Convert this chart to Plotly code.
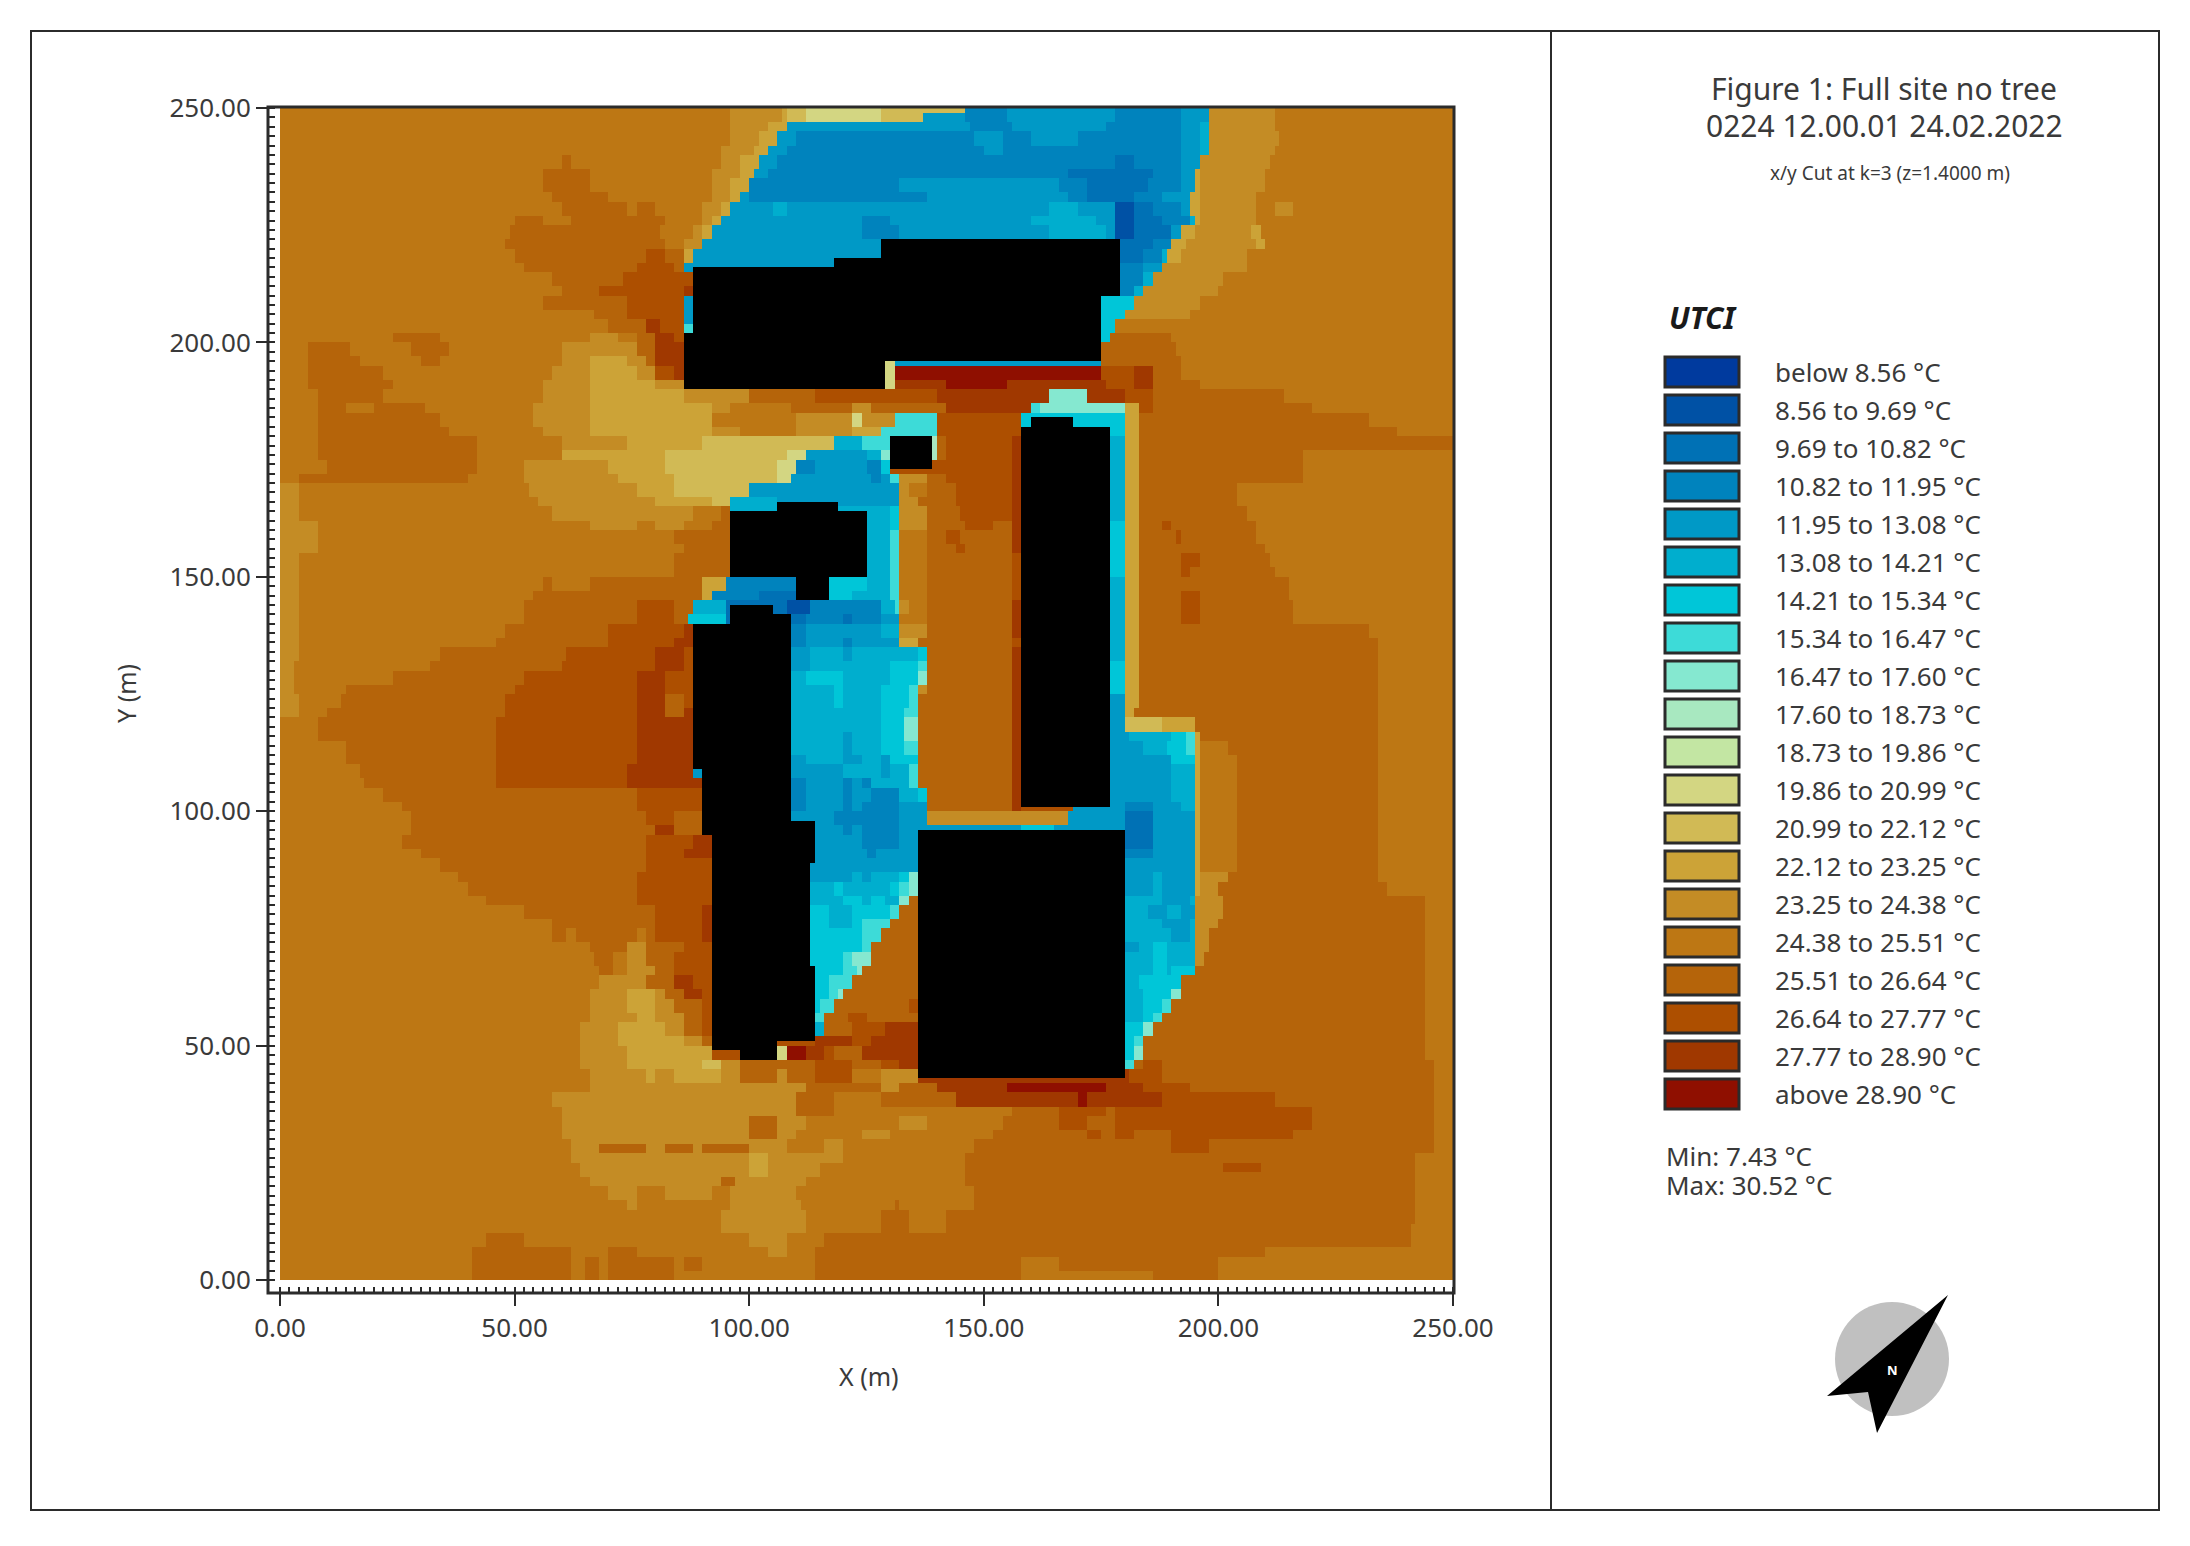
import numpy as np
import plotly.graph_objects as go

W, H = 2190, 1546
LEVELS = ["below 8.56 °C", "8.56 to 9.69 °C", "9.69 to 10.82 °C", "10.82 to 11.95 °C", "11.95 to 13.08 °C",
          "13.08 to 14.21 °C", "14.21 to 15.34 °C", "15.34 to 16.47 °C", "16.47 to 17.60 °C", "17.60 to 18.73 °C",
          "18.73 to 19.86 °C", "19.86 to 20.99 °C", "20.99 to 22.12 °C", "22.12 to 23.25 °C", "23.25 to 24.38 °C",
          "24.38 to 25.51 °C", "25.51 to 26.64 °C", "26.64 to 27.77 °C", "27.77 to 28.90 °C", "above 28.90 °C"]
COLORS = ["#003A9E", "#0051A5", "#0071B5", "#0083BD", "#0099C6", "#00AECE", "#00C6D8", "#3DDBD8", "#85E8D0", "#A8E8C0",
          "#C3E6A3", "#D3D682", "#D1BA55", "#CCA337", "#C48C25", "#BD7714", "#B5640A", "#AD4F00", "#A03800", "#8F0F00"]
CLASS_KEYS = "abcdefghijklmnopqrst"

# each row covers 2.5 m of y, top to bottom; token = class letter + x where the run ends
ROWS = [
    "p96 o107 n108 m112 l128 m137 e146 d155 e178 d192 e198 o212 p250",
    "p96 o104 n108 e147 d156 e176 d192 e196 f198 o212 p250",
    "p96 o102 n106 e110 d148 e154 d160 e170 d192 e196 f198 o213 p250",
    "p94 o101 n104 e108 d150 e154 d192 e196 f198 o212 p250",
    "p60 q62 p94 o98 n102 e106 d178 c182 d192 e196 o211 p250",
    "p56 q66 p92 o98 n101 e104 d168 c186 d192 e195 n196 o210 p250",
    "p56 q66 p92 o96 n100 d132 e166 d172 c185 d192 e195 n196 o210 p250",
    "p58 q70 p92 o96 n98 e100 d138 e168 d172 c182 d188 e194 n196 o208 p250",
    "p60 q74 p76 q80 p90 o94 n96 e105 f108 e164 f170 e178 b182 c186 d192 e194 n196 o208 p212 o216 p250",
    "p50 q56 p62 q82 p90 o92 n94 e124 d130 e160 f174 e178 b182 c188 d194 f195 n196 o208 p250",
    # 225
    "p49 q81 p88 o90 n92 e124 d132 e164 f176 e178 b182 c190 e192 n195 o207 n209 p250",
    "p48 q82 p86 o90 e128 c186 d190 n193 o208 n210 p250",
    "p50 q78 r82 q86 n88 e178 c184 d188 f189 n192 o206 p250",
    "p52 q76 r84 q86 e178 d184 e188 o206 p250",
    "p58 q73 r88 e178 d184 f186 o201 p250",
    "p60 q68 r86 s88 e178 d182 f184 o200 p250",
    "p56 q74 r86 e175 g182 o196 p250",
    "p67 q74 r86 e175 g180 o194 p250",
    "p70 q78 s81 r86 e175 g178 p250",
    "p24 q34 p66 o72 p76 q80 s84 r86 e175 g177 q190 p250",
    # 200
    "p6 q15 p28 q36 p60 o76 q80 s86 e175 q191 p250",
    "p6 q17 p30 q34 p60 o66 n74 o78 q80 s86 e175 q192 p250",
    "p6 q22 p58 o66 n76 o80 r84 s86 t175 r182 s186 q192 p250",
    "p6 q24 p56 o66 n80 o86 s142 t155 s176 r182 s186 q196 p250",
    "p8 q22 p56 o66 n86 o100 q114 r140 s164 i172 s180 r186 q214 p250",
    "p8 q14 p20 q31 p54 o66 n92 o96 p109 q122 o126 q142 s160 h162 i180 n183 r186 q220 p250",
    "p8 q34 p54 o66 n92 p110 o122 l124 o131 h140 r158 g180 n183 q232 p250",
    "p8 q36 p56 o66 n92 o98 p110 o122 n128 h140 r158 g180 n183 q238 p250",
    "p8 q42 p60 o74 n90 m118 f124 h130 j140 q142 r156 s158 f180 n183 q250",
    "p8 q42 p60 n82 m108 l112 e125 f128 i130 j140 q142 r156 s158 f180 n183 q218 p250",
    # 175
    "p10 q42 p52 o70 n82 m106 l110 d114 e125 d128 g130 r156 s158 f180 n183 q218 p250",
    "p4 q40 p52 o72 n84 m106 l109 e126 d128 e130 h132 o138 q142 r156 s158 f180 n183 q218 p250",
    "o4 p53 o76 n84 m100 e132 o134 p138 q144 r156 s158 f180 n183 q204 p250",
    "o4 p55 o80 n92 m96 f106 e132 o136 q144 r156 s158 f180 n183 q204 p250",
    "o4 p58 o88 p94 q96 f130 g132 o138 q145 r156 s158 f180 n183 q206 p250",
    "o8 p66 o76 p80 o86 p92 q96 f130 g132 o138 q146 r152 q156 s158 g180 n183 q188 r190 q208 p250",
    "o8 p84 q96 f130 h132 p138 q142 r145 q156 s158 g180 n183 q191 r192 q208 p250",
    "o8 p86 q96 f130 h132 p138 q144 r146 q156 s158 g180 n183 q210 p250",
    "o4 p84 q96 f130 h132 p138 q156 r158 g180 n183 q192 r196 q211 p250",
    "o4 p84 q96 f130 h132 p138 q156 r158 g180 n183 q192 r194 q212 p250",
    # 150
    "o4 p56 q58 p66 q90 n95 d110 g125 f130 h132 p138 q156 r158 f180 n183 q215 p250",
    "o4 p54 q90 n92 d102 c110 g122 f130 h132 p138 q156 r158 f180 n183 q192 r196 q215 p250",
    "o4 p52 q76 r84 q88 f95 c108 b113 d128 f131 h132 o134 p138 q156 s158 f180 n183 q192 r196 q216 p250",
    "o4 p52 q76 r84 q87 g95 c112 d120 c122 d128 e132 p138 q156 s158 f180 n183 q192 r196 q216 p250",
    "o4 p48 q70 r86 s88 d112 e128 f132 o138 q156 s158 f180 n183 q232 p250",
    "o4 p46 q70 r84 s88 d112 e120 d122 e132 n136 q156 r158 f180 n183 q234 p250",
    "o4 p34 q61 r80 s86 r88 e113 f120 e122 f136 g138 q156 s158 f180 n183 q234 p250",
    "o3 p32 q60 r80 s86 r88 e113 f130 g136 h138 q156 s158 g180 n183 q234 p250",
    "o3 p24 q52 r76 s82 r88 f112 g120 f130 g136 i138 q156 s158 g180 n183 q234 p250",
    "o3 p14 q50 r76 s82 r88 f118 g120 f128 g134 h136 o138 q156 s158 g180 n183 q234 p250",
    # 125
    "o4 p13 q48 r76 s82 q86 r88 f118 g120 f128 g134 h136 q156 s158 e180 n183 q234 p250",
    "o4 p10 q48 r76 s82 q86 s88 f128 g133 h136 q156 s158 e180 n182 q234 p250",
    "p8 q46 r76 s88 f128 g133 i136 q156 s158 e180 m188 n195 q234 p250",
    "p8 q46 r76 s88 f120 e122 f128 g133 i136 q156 s158 e181 f190 g193 h195 n196 q234 p250",
    "p14 q46 r76 s88 f120 e122 f128 g133 h136 q156 s158 e184 f189 g193 h195 n196 p202 q234 p250",
    "p14 q46 r76 s88 e112 f120 e124 f128 e130 g136 q156 s158 e190 g195 n196 p204 q234 p250",
    "p17 q46 r74 s88 e120 f128 e130 f134 h136 q156 s158 e190 f195 n196 p204 q234 p250",
    "p18 q46 r74 s90 d112 e120 d122 e124 d126 f134 h136 q156 s158 e190 f195 n196 p204 q234 p250",
    "p22 q76 r90 d112 e120 d122 e126 d132 f136 g138 q156 s158 e190 f195 n196 p204 q234 p250",
    "p26 q76 r90 d112 e120 d122 e124 d132 e138 q156 s158 e180 d186 e192 f195 n196 p204 q234 p250",
    # 100
    "p28 q78 r84 q90 e118 d132 e138 o168 e180 c186 e195 n196 p204 q234 p250",
    "p28 q80 s84 q92 e120 d122 e124 d132 e158 g165 e180 c186 e195 n196 p204 q234 p250",
    "p26 q78 r88 s92 e124 d132 e136 c186 e195 n196 p204 q234 p250",
    "p30 q78 r86 s92 e125 d127 e136 d186 e195 n196 p204 q234 p250",
    "p34 q78 r92 e195 n196 p204 q234 p250",
    "p38 q76 r92 f113 e122 f124 e126 f132 g134 i136 e186 f188 e195 n196 o202 q234 p250",
    "p40 q76 r92 f118 g120 f130 g132 h134 i136 e186 f188 e195 n196 o200 q236 p250",
    "p44 q76 r92 f120 g124 f126 g129 f132 i134 q136 f188 e194 f195 o201 q244 p250",
    "p52 q80 r90 s92 g117 f122 g130 h132 q136 f185 e189 f192 e195 o201 q244 p250",
    "p58 q80 r90 s92 g117 f122 g124 h130 q136 f188 e194 f195 o200 q244 p250",
    # 75
    "p58 q61 p63 q76 p78 q80 r90 s92 g124 h128 q136 f190 e194 f195 o198 q244 p250",
    "p66 q74 o78 q86 r92 g124 h126 q136 e183 f186 g189 f195 o198 q244 p250",
    "p67 q71 p74 o78 q84 r92 g120 h122 i126 q136 f186 g189 f195 o197 q244 p250",
    "p68 q71 p74 o80 q84 r92 g120 h123 i124 q136 f186 g189 f190 g195 q244 p250",
    "p68 o78 q84 s88 r92 g117 h122 q136 f183 g192 q244 p250",
    "p66 o74 n80 o82 q86 s90 r92 g117 h119 i120 q136 f184 g190 i192 q244 p250",
    "p66 o74 n80 o84 q90 r92 g115 h118 q134 r136 f184 g188 h190 q244 p250",
    "p66 o76 n80 o86 q90 r92 h116 q121 r125 q136 f184 g186 h188 q244 p250",
    "p64 o72 n82 o86 q90 r92 f116 q122 r129 s136 g184 i186 q244 p250",
    "p64 o72 n86 o90 q92 r114 s122 r126 s136 g182 h184 q244 p250",
    # 50
    "p64 o74 n92 r98 s106 l108 t112 s116 r118 q124 s136 g182 i184 q244 p250",
    "p64 o74 n90 m94 o98 q114 r122 q128 r132 s136 h182 q184 r188 q246 p250",
    "p66 o78 n80 o84 n94 o98 q106 o108 q114 r122 p128 o136 s181 r188 q246 p250",
    "p66 o112 q128 o132 q140 s155 t176 s184 r194 q246 p250",
    "p58 o110 q118 p128 q144 s170 t172 s188 r212 q246 p250",
    "p60 o110 q118 p156 q166 r176 q178 r220 q246 p250",
    "p60 o100 q106 o112 p132 o138 p154 q166 r172 q178 r220 q246 p250",
    "p60 o100 q106 o110 p124 o130 p152 q172 r175 q178 r182 q190 r216 q246 p250",
    "p62 o108 p116 o120 p148 q190 r198 q246 p250",
    "p62 o100 n104 o120 p146 q242 p250",
    # 25
    "p64 o100 n104 o115 p146 q242 p250",
    "p66 o94 q97 o112 p146 q242 p250",
    "p70 o76 p82 o92 p96 o110 p148 q242 p250",
    "p74 o76 p96 o111 p131 q132 p148 q242 p250",
    "p94 o112 p128 q134 p142 q242 p250",
    "p94 o112 p128 q134 p142 q241 p250",
    "p44 q52 p100 o108 p116 q241 p250",
    "p41 q62 p70 q76 p104 o108 p114 q210 p250",
    "p41 q62 p65 q68 p70 q84 p86 q90 p114 q158 p166 q200 p250",
    "p41 q62 p65 q68 p70 q84 p114 q158 p186 q200 p250",
]

# finer features: x0, x1, y0, y1, class
DETAILS = [
    (86, 88, 202.3, 204.5, "h"), (129, 131, 190, 195.8, "l"), (138, 168.5, 98, 100, "o"),
    (158, 169, 100, 101.1, "r"), (128, 146, 249, 250, "m"),
    (68, 78, 27.5, 29, "q"), (82, 88.5, 27.5, 29, "q"), (90, 100, 27.5, 29, "q"),
    (200.7, 208.8, 23.5, 25.5, "r"),
]
# blocked cells (buildings): x0, x1, y0, y1
BUILDINGS = [
    (87.6, 118.2, 202, 216.4), (118.2, 127.7, 202, 218.2), (127.7, 178.9, 209.7, 222.5),
    (127.7, 175.1, 195.8, 209.7), (85.9, 129, 189.7, 202.3), (118.2, 175.1, 195.8, 202.3),
    (130.1, 138.9, 173.3, 180.5),
    (95.7, 124.7, 149.7, 164.2), (105.9, 118.6, 164.2, 165.8), (110.3, 116.6, 145.3, 149.7),
    (95.7, 104.7, 139.7, 144), (104.7, 109, 139.7, 142.4), (87.6, 109, 109.5, 139.7),
    (89.6, 109, 94.8, 109.5), (92.1, 106.4, 48.7, 94.8), (106.4, 109, 51.1, 94.8),
    (109, 114.5, 89.1, 97.9), (109, 112.7, 67.5, 89.1), (109, 114.5, 51.1, 67.5), (98, 106.4, 46.8, 48.7),
    (159.9, 168.9, 182.3, 184.1), (158.3, 177, 101.1, 182.3),
    (135.8, 180.5, 42.6, 95.9),
]
X_MAJOR = list(range(0, 251, 10))
X_LABELED = list(range(0, 251, 50))

xc = np.arange(250) + 0.5
yc = np.arange(250) + 0.5
z = np.zeros((250, 250))
row_h = 250 / len(ROWS)
print(len(ROWS))
for i, row in enumerate(ROWS):
    y_hi = 250 - row_h * i
    start = 0
    vals = np.full(250, 15.0)
    for tok in row.split():
        end = int(tok[1:])
        if end > start:
            vals[start:end] = CLASS_KEYS.index(tok[0])
            start = end
    z[(yc < y_hi) & (yc >= y_hi - row_h), :] = vals
for x0, x1, y0, y1, k in DETAILS:
    mask = np.outer((yc >= y0) & (yc < y1), (xc >= x0) & (xc < x1))
    z[mask] = CLASS_KEYS.index(k)
for x0, x1, y0, y1 in BUILDINGS:
    mask = np.outer((yc >= y0) & (yc < y1), (xc >= x0) & (xc < x1))
    z[mask] = 20

n = 21
all_colors = COLORS + ["#000000"]
cs = []
for i, c in enumerate(all_colors):
    cs += [[i / n, c], [(i + 1) / n, c]]

PX = lambda x: x / W
PY = lambda y: 1 - y / H
L, R, T, B = 280, 1453, 108, 1280
FL, FB = 268, 1293
INK = "#2b2b2b"
TXT = "#3a3a3a"
FONT = "Noto Sans"

fig = go.Figure(go.Heatmap(x=xc, y=yc, z=z, zmin=-0.5, zmax=20.5, colorscale=cs, showscale=False, hoverinfo="skip"))

axis_common = dict(
    range=[0, 250], tickmode="array", showgrid=False, zeroline=False, automargin=False,
    showline=False, ticks="outside", ticklen=12, tickwidth=2, tickcolor=INK, anchor="free",
    tickfont=dict(family=FONT, size=26, color=TXT),
    minor=dict(ticks="inside", tickmode="array", tickvals=list(range(0, 251, 2)), ticklen=6, tickwidth=2, tickcolor=INK, showgrid=False),
)
ticktext = [f"{v:.2f}" if v in X_LABELED else "" for v in X_MAJOR]
fig.update_xaxes(domain=[PX(L), PX(R)], position=PY(FB), tickvals=X_MAJOR, ticktext=ticktext, **axis_common)
fig.update_yaxes(domain=[PY(B), PY(T)], position=PX(FL), tickvals=X_MAJOR, ticktext=ticktext, **axis_common)

shapes = []
def rect(x0, y0, x1, y1, line=INK, lw=2, fill=None):
    shapes.append(dict(type="rect", xref="paper", yref="paper", x0=PX(x0), x1=PX(x1), y0=PY(y0), y1=PY(y1),
                       line=dict(color=line, width=lw), fillcolor=fill, layer="above"))

rect(31, 31, 2159, 1510)
shapes.append(dict(type="line", xref="paper", yref="paper", x0=PX(1551), x1=PX(1551), y0=PY(31), y1=PY(1510), line=dict(color=INK, width=2)))
rect(FL, T - 1, R + 1, FB, lw=3)

anns = []
def text(x, y, s, size, color=TXT, anchor="left", **kw):
    anns.append(dict(xref="paper", yref="paper", x=PX(x), y=PY(y), text=s, showarrow=False, xanchor=anchor, yanchor="middle",
                     font=dict(family=kw.pop("family", FONT), size=size, color=color), **kw))

for i, (lab, col) in enumerate(zip(LEVELS, COLORS)):
    yc_px = 372 + i * 38.0
    rect(1665, yc_px - 15, 1739, yc_px + 15, lw=3, fill=col)
    text(1773, yc_px, lab, 26)

text(1884, 89, "Figure 1: Full site no tree", 30, anchor="center")
text(1884, 126, "0224 12.00.01 24.02.2022", 30, anchor="center")
text(1890, 173, "x/y Cut at k=3 (z=1.4000 m)", 19, anchor="center")
text(1667, 318, "<b><i>UTCI</i></b>", 30, color="#1a1a1a")
text(1664, 1156, "Min: 7.43 °C", 26)
text(1664, 1185, "Max: 30.52 °C", 26)
text(869, 1376, "X (m)", 25, anchor="center")
text(126, 694, "Y (m)", 25, anchor="center", textangle=-90)

# north arrow
shapes.append(dict(type="circle", xref="paper", yref="paper", x0=PX(1835), x1=PX(1949), y0=PY(1302), y1=PY(1416),
                   fillcolor="#c0c0c0", line=dict(width=0)))
arrow = [(1948, 1295), (1827, 1396), (1868, 1392), (1877, 1433)]
path = "M " + " L ".join(f"{PX(a):.5f},{PY(b):.5f}" for a, b in arrow) + " Z"
shapes.append(dict(type="path", xref="paper", yref="paper", path=path, fillcolor="#000000", line=dict(width=0)))
text(1892, 1370, "<b>N</b>", 13, color="#ffffff", anchor="center")

fig.update_layout(width=W, height=H, autosize=False, margin=dict(l=0, r=0, t=0, b=0),
                  paper_bgcolor="white", plot_bgcolor="white", shapes=shapes, annotations=anns, showlegend=False)
fig.write_html("out.html", config={"displayModeBar": False}, post_script="document.body.style.margin='0';")
